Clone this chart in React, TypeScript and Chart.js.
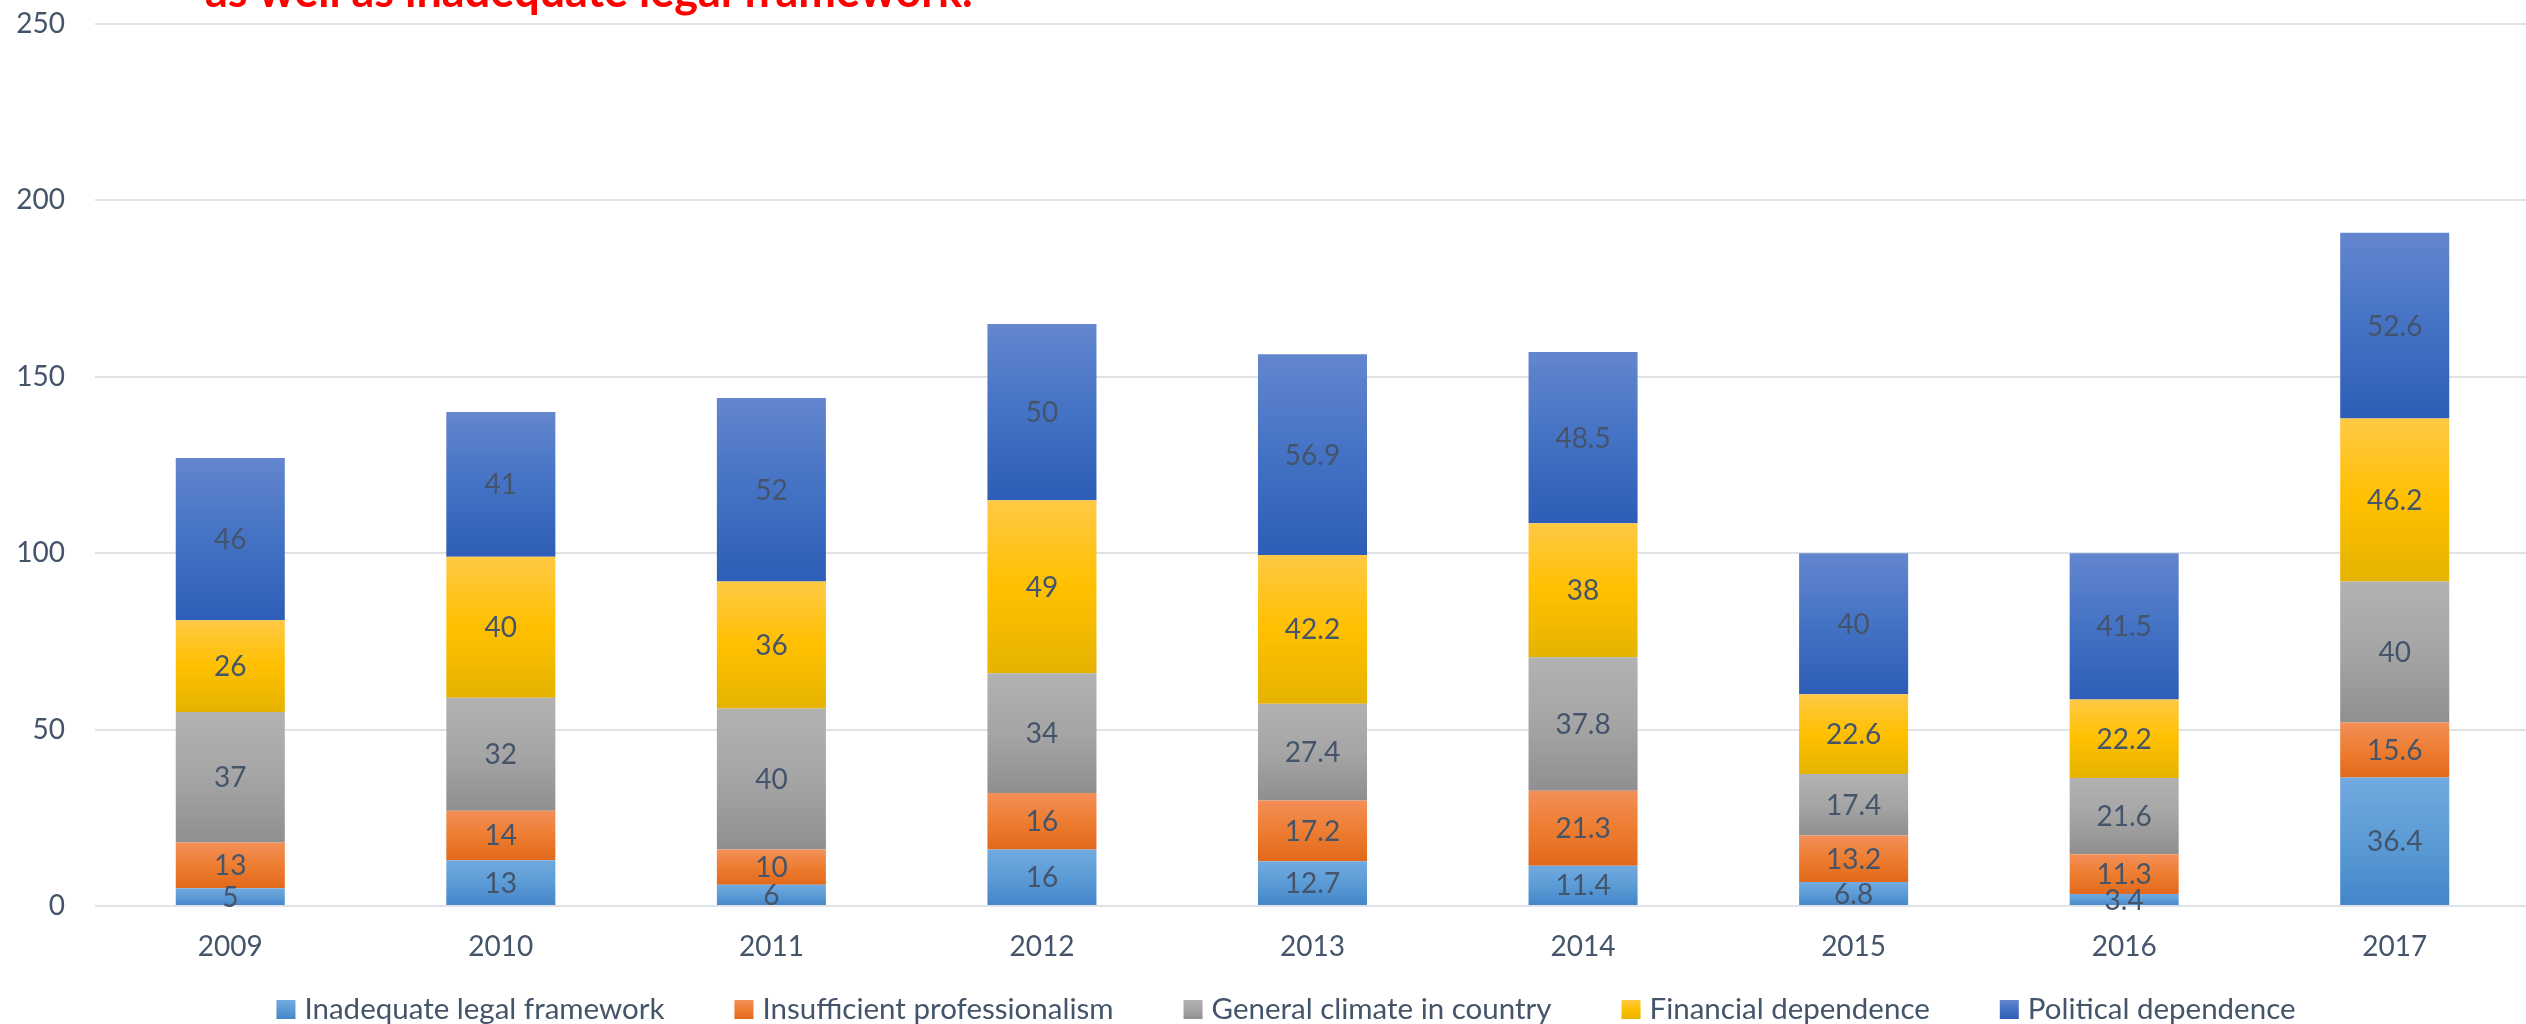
import React, { useEffect, useRef } from 'react';
import { Chart, registerables } from 'chart.js';

Chart.register(...registerables);

const years = ['2009', '2010', '2011', '2012', '2013', '2014', '2015', '2016', '2017'];
const legalFramework = [5, 13, 6, 16, 12.7, 11.4, 6.8, 3.4, 36.4];
const professionalism = [13, 14, 10, 16, 17.2, 21.3, 13.2, 11.3, 15.6];
const generalClimate = [37, 32, 40, 34, 27.4, 37.8, 17.4, 21.6, 40];
const financialDependence = [26, 40, 36, 49, 42.2, 38, 22.6, 22.2, 46.2];
const politicalDependence = [46, 41, 52, 50, 56.9, 48.5, 40, 41.5, 52.6];
const seriesNames = [
  'Inadequate legal framework',
  'Insufficient professionalism',
  'General climate in country',
  'Financial dependence',
  'Political dependence',
];
const yTicks = [0, 50, 100, 150, 200, 250];
const headline = 'as well as inadequate legal framework.';

const allSeries = [legalFramework, professionalism, generalClimate, financialDependence, politicalDependence];

// top, middle, bottom colours of each series' vertical gradient
const palettes = [
  ['#72aae0', '#5b9bd5', '#4485ca'],
  ['#f38f59', '#ed7d31', '#e2691b'],
  ['#b2b2b2', '#a5a5a5', '#8f8f8f'],
  ['#ffc945', '#ffc000', '#e5b300'],
  ['#6386ce', '#4472c4', '#2d5db6'],
];

const TEXT = '#44546a';
const FONT = 'Lato, "Open Sans", sans-serif';

function gradientFill(di: number) {
  return (ctx: any) => {
    const chart = ctx.chart;
    const y = chart.scales && chart.scales.y;
    const [t, m, b] = palettes[di];
    if (ctx.type !== 'data' || !y) return m;
    const i = ctx.dataIndex;
    let base = 0;
    for (let k = 0; k < di; k++) base += allSeries[k][i];
    const top = base + allSeries[di][i];
    const y0 = y.getPixelForValue(top);
    const y1 = y.getPixelForValue(base);
    if (!isFinite(y0) || !isFinite(y1) || y0 === y1) return m;
    const g = chart.ctx.createLinearGradient(0, y0, 0, y1);
    g.addColorStop(0, t);
    g.addColorStop(0.5, m);
    g.addColorStop(1, b);
    return g;
  };
}

const segmentLabels = {
  id: 'segmentLabels',
  afterDatasetsDraw(chart: any) {
    const c = chart.ctx;
    c.save();
    c.font = `28px ${FONT}`;
    c.fillStyle = TEXT;
    c.textAlign = 'center';
    c.textBaseline = 'middle';
    chart.data.datasets.forEach((ds: any, di: number) => {
      const meta = chart.getDatasetMeta(di);
      meta.data.forEach((el: any, i: number) => {
        const { x, y, base } = el.getProps(['x', 'y', 'base'], true);
        c.fillText(String(ds.data[i]), x, (y + base) / 2 + 1);
      });
    });
    c.restore();
  },
};

const customLegend = {
  id: 'customLegend',
  afterDraw(chart: any) {
    const c = chart.ctx;
    c.save();
    c.font = `29.5px ${FONT}`;
    const box = 19;
    const gapText = 9;
    const gapItem = 70;
    const widths = seriesNames.map((n) => c.measureText(n).width);
    const total = widths.reduce((a, w) => a + box + gapText + w, 0) + gapItem * (seriesNames.length - 1);
    let x = 1286 - total / 2;
    const cy = 1009.5;
    seriesNames.forEach((n, i) => {
      const [t, m, b] = palettes[i];
      const g = c.createLinearGradient(0, cy - box / 2, 0, cy + box / 2);
      g.addColorStop(0, t);
      g.addColorStop(0.5, m);
      g.addColorStop(1, b);
      c.fillStyle = g;
      c.fillRect(x, cy - box / 2, box, box);
      c.fillStyle = TEXT;
      c.textAlign = 'left';
      c.textBaseline = 'middle';
      c.fillText(n, x + box + gapText, cy);
      x += box + gapText + widths[i] + gapItem;
    });
    c.restore();
  },
};

const headlinePlugin = {
  id: 'headline',
  afterDraw(chart: any) {
    const c = chart.ctx;
    c.save();
    c.font = `bold 40px ${FONT}`;
    const w = c.measureText(headline).width;
    const size = (40 * 768) / w;
    c.font = `bold ${size}px ${FONT}`;
    c.fillStyle = '#ff0000';
    c.textAlign = 'left';
    c.textBaseline = 'alphabetic';
    c.fillText(headline, 205, 7);
    c.restore();
  },
};

export default function App() {
  const ref = useRef<HTMLCanvasElement>(null);

  useEffect(() => {
    const canvas = ref.current;
    if (!canvas) return;
    const chart = new Chart(canvas, {
      type: 'bar',
      data: {
        labels: years,
        datasets: allSeries.map((data, di) => ({
          label: seriesNames[di],
          data,
          backgroundColor: gradientFill(di),
          borderWidth: 0,
          categoryPercentage: 1,
          barPercentage: 0.403,
        })),
      },
      options: {
        responsive: false,
        animation: false,
        devicePixelRatio: 1,
        layout: { padding: { top: 24, right: 0, bottom: 0, left: 0 } },
        plugins: {
          legend: { display: false },
          title: { display: false },
          tooltip: { enabled: false },
        },
        scales: {
          x: {
            stacked: true,
            grid: { display: false, drawTicks: false },
            border: { display: false },
            ticks: { color: TEXT, font: { family: FONT, size: 28 }, padding: 24 },
            afterFit: (s: any) => {
              s.height = 118;
              s.paddingLeft = 0;
              s.paddingRight = 0;
            },
          },
          y: {
            stacked: true,
            min: 0,
            max: 250,
            afterBuildTicks: (s: any) => {
              s.ticks = yTicks.map((v) => ({ value: v }));
            },
            grid: { color: '#dfe3e8', lineWidth: 2, drawTicks: false },
            border: { display: false },
            ticks: { color: TEXT, font: { family: FONT, size: 28 }, padding: 30 },
            afterFit: (s: any) => {
              s.width = 95;
              s.paddingTop = 0;
              s.paddingBottom = 0;
            },
          },
        },
      },
      plugins: [segmentLabels, customLegend, headlinePlugin],
    });
    return () => chart.destroy();
  }, []);

  return (
    <div
      style={{
        position: 'fixed',
        left: 0,
        top: 0,
        width: 2526,
        height: 1024,
        overflow: 'hidden',
        background: '#ffffff',
      }}
    >
      <canvas ref={ref} width={2530} height={1024} style={{ display: 'block', width: 2530, height: 1024 }} />
    </div>
  );
}
